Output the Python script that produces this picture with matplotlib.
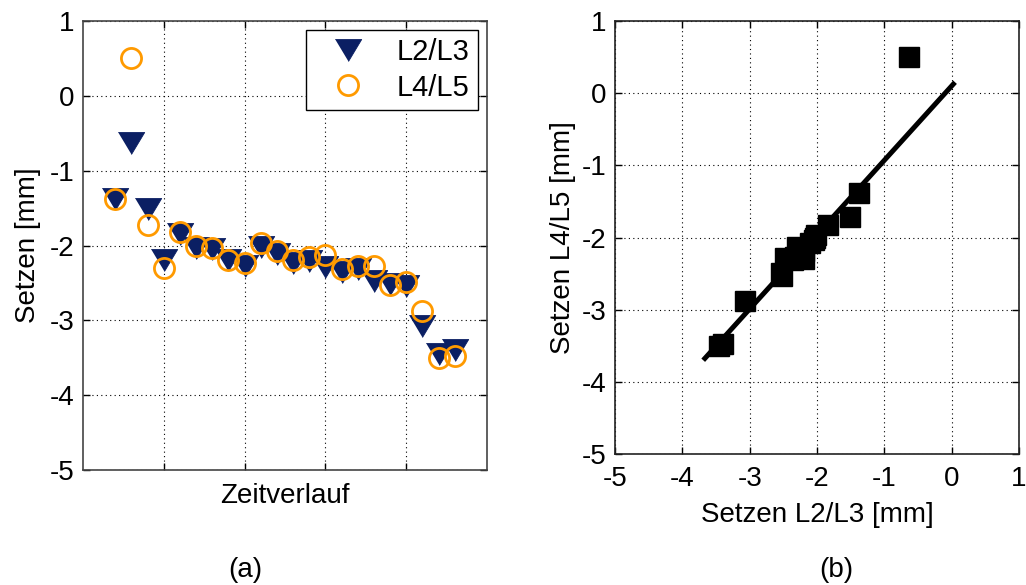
import numpy as np
import matplotlib
matplotlib.use("Agg")
import matplotlib.pyplot as plt

plt.rcParams['font.family'] = ['Liberation Sans', 'DejaVu Sans']
plt.rcParams['axes.unicode_minus'] = False

# Zeitverlauf (Messzeitpunkte)
time_idx = [2, 3, 4, 5, 6, 7, 8, 9, 10, 11, 12, 13, 14, 15, 16, 17, 18, 19, 20, 21, 22, 23]

# Setzen L2/L3 [mm]
setz_l23 = [-1.38, -0.63, -1.51, -2.20, -1.84, -2.03, -2.05, -2.20, -2.27, -2.02, -2.11,
            -2.23, -2.21, -2.29, -2.36, -2.32, -2.48, -2.52, -2.54, -3.07, -3.45, -3.39]
# Setzen L4/L5 [mm]
setz_l45 = [-1.38, 0.50, -1.72, -2.30, -1.82, -2.01, -2.04, -2.19, -2.24, -1.97, -2.08,
            -2.19, -2.16, -2.13, -2.31, -2.27, -2.28, -2.53, -2.49, -2.88, -3.51, -3.47]

# Regressionsgerade (b)
fit_slope = 1.03
fit_intercept = 0.10
fit_range = [-3.69, 0.05]

navy = '#0b1f63'
orange = '#ff9a00'
grid_kw = dict(color='black', linestyle=(0, (1, 3)), linewidth=0.8)

fig = plt.figure(figsize=(10.26, 5.85), dpi=100)
W, H = 1026, 585

# (a) Zeitverlauf
ax1 = fig.add_axes([83 / W, 1 - 470 / H, 404 / W, 449 / H])
tri = [(-1.2, 1), (1.2, 1), (0, -1)]
ax1.plot(time_idx, setz_l23, linestyle='none', marker=tri, markersize=19,
         markerfacecolor=navy, markeredgecolor=navy, markeredgewidth=0.6, label='L2/L3')
ax1.plot(time_idx, setz_l45, linestyle='none', marker='o', markersize=14.5,
         markerfacecolor='none', markeredgecolor=orange, markeredgewidth=2.0, label='L4/L5')
ax1.set_xlim(0, 25)
ax1.set_ylim(-5, 1)
ax1.set_xticks([5, 10, 15, 20])
ax1.set_xticklabels([])
ax1.set_yticks(np.arange(-5, 2, 1))
ax1.grid(True, **grid_kw)
ax1.set_xlabel('Zeitverlauf', fontsize=20)
ax1.set_ylabel('Setzen [mm]', fontsize=20)
ax1.xaxis.set_label_coords(0.5, -0.029)
ax1.yaxis.set_label_coords(-0.103, 0.5)
leg = ax1.legend(loc='upper right', bbox_to_anchor=(0.978, 0.981), fontsize=21,
                 fancybox=False, framealpha=1, edgecolor='black', borderpad=0.3,
                 handletextpad=0.5, labelspacing=0.25, borderaxespad=0,
                 handlelength=2.3)
leg.get_frame().set_linewidth(1.0)
for sp in ax1.spines.values():
    sp.set_color('#444444')
    sp.set_linewidth(1.2)

# (b) Korrelation
ax2 = fig.add_axes([615 / W, 1 - 454 / H, 404 / W, 433 / H])
fx = np.array(fit_range)
ax2.plot(fx, fit_slope * fx + fit_intercept, color='black', linewidth=3.6,
         solid_capstyle='butt')
ax2.plot(setz_l23, setz_l45, linestyle='none', marker='s', markersize=14,
         markerfacecolor='black', markeredgecolor='black', markeredgewidth=1)
ax2.set_xlim(-5, 1)
ax2.set_ylim(-5, 1)
ax2.set_xticks(np.arange(-5, 2, 1))
ax2.set_yticks(np.arange(-5, 2, 1))
ax2.grid(True, **grid_kw)
ax2.set_xlabel('Setzen L2/L3 [mm]', fontsize=20)
ax2.set_ylabel('Setzen L4/L5 [mm]', fontsize=20)
ax2.xaxis.set_label_coords(0.5, -0.11)
ax2.yaxis.set_label_coords(-0.096, 0.5)
for sp in ax2.spines.values():
    sp.set_color('#222222')
    sp.set_linewidth(1.2)

for ax in (ax1, ax2):
    ax.set_axisbelow(True)
    ax.tick_params(direction='in', length=5, width=1, labelsize=20,
                   top=True, right=True)
    ax.tick_params(axis='y', pad=6)
    ax.tick_params(axis='x', pad=9)

fig.text(245 / W, 1 - 570 / H, '(a)', fontsize=20, ha='center', va='center')
fig.text(836 / W, 1 - 570 / H, '(b)', fontsize=20, ha='center', va='center')

fig.savefig('out.png', dpi=100)
